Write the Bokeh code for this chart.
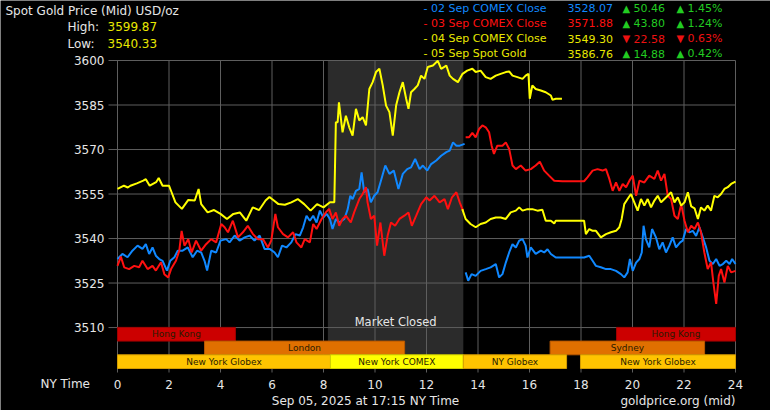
from bokeh.plotting import figure
from bokeh.models import Range1d, ColumnDataSource
from bokeh.embed import file_html
from bokeh.resources import INLINE
from bokeh.core.properties import value

# ---------------- data ----------------
hour_ticks = [0, 2, 4, 6, 8, 10, 12, 14, 16, 18, 20, 22, 24]
price_ticks = [3510, 3525, 3540, 3555, 3570, 3585, 3600]

# 05 Sep spot gold (yellow, current day)
spot05_hours = [0.0, 0.25, 0.4, 0.5, 0.75, 1.0, 1.1, 1.25, 1.5, 1.6, 1.75, 2.0, 2.1, 2.25, 2.5, 2.75,
                3.0, 3.15, 3.25, 3.5, 3.75, 4.0, 4.25, 4.5, 4.75, 5.0, 5.25, 5.5, 5.75, 5.9, 6.0, 6.25,
                6.5, 6.75, 7.0, 7.25, 7.5, 7.75, 8.0, 8.25, 8.42, 8.48, 8.55, 8.6, 8.74, 8.87, 9.0,
                9.13, 9.26, 9.39, 9.52, 9.65, 9.78, 9.91, 10.04, 10.17, 10.3, 10.43, 10.56, 10.69,
                10.82, 10.95, 11.08, 11.21, 11.3, 11.4, 11.53, 11.66, 11.79, 11.92, 12.05, 12.25,
                12.44, 12.57, 12.77, 12.9, 13.03, 13.22, 13.4, 13.58, 13.78, 13.91, 14.1, 14.3,
                14.49, 14.69, 14.88, 15.08, 15.21, 15.34, 15.53, 15.73, 15.85, 15.96, 16.01, 16.11,
                16.24, 16.44, 16.63, 16.83, 16.89, 17.02, 17.26]
spot05_prices = [3556.7, 3557.8, 3557.2, 3557.8, 3558.6, 3559.5, 3560.0, 3557.8, 3559.0, 3560.4,
                 3557.8, 3557.8, 3555.6, 3552.2, 3550.0, 3553.0, 3552.8, 3556.7, 3551.6, 3548.8,
                 3549.6, 3548.3, 3546.6, 3548.3, 3548.8, 3546.0, 3550.5, 3549.6, 3552.8, 3554.0,
                 3553.3, 3551.6, 3551.4, 3552.2, 3553.3, 3551.6, 3549.4, 3551.6, 3550.5, 3552.2,
                 3552.2, 3579.2, 3579.2, 3585.9, 3575.8, 3581.4, 3577.5, 3574.7, 3583.7, 3579.8,
                 3580.9, 3578.1, 3590.4, 3592.7, 3596.1, 3597.2, 3591.6, 3584.8, 3582.6, 3574.7,
                 3584.8, 3589.3, 3592.7, 3587.1, 3583.7, 3589.3, 3590.4, 3591.6, 3594.9, 3593.8,
                 3597.8, 3598.3, 3599.9, 3597.2, 3598.3, 3594.9, 3593.8, 3592.7, 3595.5, 3596.6,
                 3597.2, 3596.1, 3596.6, 3594.4, 3593.8, 3594.9, 3595.5, 3596.1, 3596.3, 3594.9,
                 3594.4, 3593.8, 3594.9, 3595.5, 3587.1, 3591.6, 3590.4, 3589.9, 3589.3, 3588.2,
                 3586.8, 3587.1, 3587.1]

# 04 Sep COMEX close series, afternoon part (yellow)
close04_hours = [13.39, 13.52, 13.71, 13.91, 14.1, 14.3, 14.49, 14.69, 14.88, 15.08, 15.27, 15.47,
                 15.6, 15.73, 15.92, 16.11, 16.31, 16.5, 16.63, 16.83, 16.96, 17.02, 18.12, 18.19,
                 18.32, 18.45, 18.58, 18.77, 18.97, 19.16, 19.36, 19.49, 19.58, 19.68, 19.81, 19.94,
                 20.07, 20.2, 20.33, 20.46, 20.59, 20.72, 20.85, 20.98, 21.11, 21.24, 21.37, 21.5,
                 21.63, 21.76, 21.89, 22.02, 22.15, 22.28, 22.41, 22.54, 22.66, 22.79, 22.92, 23.05,
                 23.18, 23.31, 23.44, 23.57, 23.7, 23.83, 24.0]
close04_prices = [3549.9, 3546.6, 3544.9, 3543.8, 3544.9, 3545.4, 3546.6, 3547.1, 3547.1, 3546.6,
                  3548.8, 3549.4, 3550.5, 3549.4, 3549.9, 3549.9, 3549.4, 3549.7, 3546.0, 3546.0,
                  3545.1, 3546.0, 3546.0, 3541.5, 3543.2, 3542.6, 3542.6, 3540.4, 3541.5, 3542.1,
                  3542.6, 3543.8, 3546.6, 3551.6, 3553.3, 3555.0, 3552.2, 3549.4, 3553.3, 3551.1,
                  3553.3, 3550.5, 3552.8, 3554.4, 3552.2, 3553.3, 3554.4, 3555.6, 3552.2, 3553.9,
                  3551.1, 3552.2, 3555.6, 3550.8, 3550.2, 3546.6, 3550.5, 3549.4, 3551.1, 3549.4,
                  3554.4, 3553.9, 3555.0, 3556.7, 3557.3, 3558.4, 3559.2]

# 03 Sep COMEX close series (red): afternoon part and next-morning part
close03_pm_hours = [13.52, 13.65, 13.78, 13.91, 14.04, 14.17, 14.3, 14.43, 14.53, 14.62, 14.75, 14.95,
                    15.08, 15.21, 15.34, 15.47, 15.66, 15.85, 16.05, 16.24, 16.4, 16.57, 16.76, 16.96,
                    17.28, 18.12, 18.25, 18.45, 18.64, 18.84, 18.97, 19.1, 19.23, 19.36, 19.49, 19.62,
                    19.75, 19.88, 20.01, 20.14, 20.27, 20.46, 20.65, 20.85, 20.98, 21.11, 21.24, 21.37,
                    21.5, 21.63, 21.76, 21.89, 22.02, 22.15, 22.28, 22.41, 22.54, 22.66, 22.79, 22.92,
                    23.05, 23.14, 23.25, 23.35, 23.44, 23.57, 23.7, 23.83, 24.0]
close03_pm_prices = [3574.1, 3574.1, 3575.6, 3574.1, 3576.9, 3578.1, 3577.5, 3575.8, 3571.3, 3568.5,
                     3571.3, 3571.3, 3572.4, 3570.2, 3564.6, 3563.4, 3564.6, 3562.9, 3563.4, 3564.6,
                     3565.9, 3562.9, 3561.2, 3559.5, 3559.3, 3559.3, 3560.6, 3562.9, 3563.4, 3562.9,
                     3563.4, 3560.1, 3556.1, 3558.9, 3556.1, 3558.4, 3557.3, 3559.5, 3561.2, 3554.4,
                     3559.5, 3558.9, 3561.2, 3560.1, 3562.9, 3559.5, 3561.8, 3554.4, 3553.3, 3547.7,
                     3546.6, 3551.6, 3546.0, 3542.1, 3544.3, 3543.2, 3545.4, 3542.1, 3535.3, 3529.7,
                     3532.0, 3525.2, 3518.0, 3527.4, 3529.7, 3525.2, 3530.8, 3528.6, 3529.1]
close03_am_hours = [0.0, 0.13, 0.26, 0.45, 0.65, 0.84, 0.97, 1.17, 1.36, 1.49, 1.69, 1.82, 1.97, 2.08,
                    2.27, 2.4, 2.49, 2.6, 2.75, 2.88, 3.05, 3.25, 3.44, 3.64, 3.83, 4.03, 4.16, 4.29,
                    4.48, 4.68, 4.87, 5.06, 5.26, 5.45, 5.65, 5.84, 5.97, 6.13, 6.23, 6.43, 6.62, 6.82,
                    6.95, 7.14, 7.27, 7.47, 7.6, 7.73, 7.92, 8.09, 8.22, 8.35, 8.48, 8.61, 8.74, 8.87,
                    9.06, 9.19, 9.39, 9.52, 9.65, 9.71, 9.84, 9.97, 10.08, 10.21, 10.36, 10.49, 10.62,
                    10.78, 10.95, 11.14, 11.3, 11.43, 11.6, 11.79, 11.99, 12.12, 12.31, 12.51, 12.7,
                    12.83, 12.99, 13.16, 13.29, 13.42]
close03_am_prices = [3530.8, 3533.9, 3530.3, 3529.7, 3530.8, 3530.3, 3532.5, 3529.7, 3530.8, 3529.2,
                     3532.0, 3528.0, 3526.9, 3529.7, 3532.5, 3535.9, 3542.6, 3537.6, 3539.8, 3535.3,
                     3539.3, 3535.9, 3538.1, 3539.8, 3538.7, 3544.9, 3543.8, 3542.1, 3546.0, 3540.4,
                     3542.1, 3544.3, 3541.5, 3539.8, 3539.8, 3537.0, 3539.3, 3548.3, 3543.8, 3541.5,
                     3540.4, 3542.1, 3538.7, 3537.0, 3539.8, 3538.7, 3544.9, 3543.2, 3546.5, 3548.8,
                     3550.0, 3546.6, 3548.8, 3544.3, 3546.6, 3547.7, 3545.4, 3548.8, 3553.3, 3555.0,
                     3557.3, 3552.2, 3546.6, 3547.7, 3537.6, 3545.4, 3534.2, 3540.9, 3545.4, 3544.3,
                     3546.6, 3547.7, 3548.8, 3544.3, 3547.7, 3551.6, 3553.9, 3552.8, 3554.4, 3552.2,
                     3553.3, 3549.9, 3553.9, 3555.6, 3552.2, 3549.3]

# 02 Sep COMEX close series (blue): afternoon part and next-morning part
close02_pm_hours = [13.52, 13.62, 13.75, 13.91, 14.1, 14.3, 14.49, 14.69, 14.82, 14.95, 15.08, 15.21,
                    15.34, 15.47, 15.6, 15.73, 15.85, 15.92, 16.05, 16.24, 16.44, 16.57, 16.7, 16.83,
                    17.02, 18.12, 18.32, 18.45, 18.58, 18.77, 18.97, 19.16, 19.36, 19.55, 19.68, 19.81,
                    19.9, 20.01, 20.14, 20.27, 20.36, 20.43, 20.52, 20.65, 20.76, 20.91, 21.04, 21.17,
                    21.3, 21.43, 21.56, 21.69, 21.85, 21.95, 22.08, 22.21, 22.34, 22.47, 22.6, 22.73,
                    22.86, 22.99, 23.12, 23.25, 23.38, 23.51, 23.64, 23.77, 23.87, 24.0]
close02_pm_prices = [3528.6, 3525.8, 3528.0, 3527.4, 3529.1, 3529.7, 3530.3, 3531.4, 3526.9, 3528.0,
                     3531.9, 3535.3, 3538.1, 3537.0, 3539.3, 3539.8, 3537.6, 3533.6, 3537.0, 3534.8,
                     3535.9, 3535.3, 3536.4, 3534.8, 3533.6, 3533.6, 3534.2, 3532.5, 3530.8, 3530.3,
                     3529.7, 3529.7, 3529.1, 3528.0, 3526.9, 3528.6, 3533.1, 3529.1, 3531.9, 3533.1,
                     3535.3, 3544.3, 3539.8, 3537.0, 3543.2, 3540.4, 3536.4, 3538.7, 3535.3, 3537.6,
                     3540.4, 3537.0, 3538.7, 3539.3, 3543.2, 3542.1, 3542.6, 3540.9, 3543.8, 3540.4,
                     3537.0, 3532.5, 3531.4, 3533.1, 3530.8, 3531.4, 3532.5, 3531.4, 3533.1, 3531.4]
close02_am_hours = [0.0, 0.19, 0.39, 0.58, 0.78, 0.97, 1.1, 1.23, 1.36, 1.49, 1.62, 1.75, 1.92, 2.05,
                    2.21, 2.34, 2.53, 2.73, 2.92, 3.09, 3.25, 3.38, 3.48, 3.64, 3.83, 4.0, 4.22, 4.35,
                    4.55, 4.74, 4.94, 5.13, 5.32, 5.52, 5.71, 5.91, 6.1, 6.23, 6.39, 6.56, 6.75, 6.91,
                    7.08, 7.21, 7.34, 7.47, 7.6, 7.73, 7.86, 7.99, 8.12, 8.25, 8.35, 8.48, 8.61, 8.81,
                    8.94, 9.04, 9.13, 9.26, 9.39, 9.48, 9.58, 9.71, 9.84, 9.97, 10.1, 10.23, 10.4,
                    10.56, 10.73, 10.91, 11.08, 11.25, 11.4, 11.56, 11.73, 11.86, 12.03, 12.18, 12.38,
                    12.57, 12.77, 12.9, 13.03, 13.16, 13.29, 13.48]
close02_am_prices = [3533.1, 3534.8, 3533.7, 3535.9, 3537.6, 3536.5, 3538.1, 3534.8, 3537.0, 3534.2,
                     3533.1, 3532.5, 3529.2, 3532.5, 3533.7, 3535.9, 3535.9, 3537.0, 3533.7, 3535.9,
                     3535.3, 3532.5, 3529.2, 3535.9, 3535.3, 3539.3, 3539.8, 3538.7, 3541.0, 3539.3,
                     3540.4, 3541.0, 3539.3, 3541.0, 3536.5, 3536.5, 3535.3, 3533.7, 3537.6, 3537.0,
                     3538.7, 3541.5, 3541.0, 3543.8, 3547.7, 3546.0, 3547.7, 3545.4, 3549.4, 3547.1,
                     3548.3, 3546.6, 3543.2, 3546.6, 3545.4, 3546.6, 3549.9, 3554.4, 3553.3, 3556.1,
                     3556.7, 3562.3, 3555.6, 3556.7, 3552.2, 3554.4, 3555.6, 3559.5, 3564.6, 3561.8,
                     3562.9, 3556.7, 3561.8, 3563.4, 3564.0, 3566.8, 3563.4, 3564.6, 3562.9, 3565.1,
                     3566.3, 3567.9, 3569.1, 3569.6, 3572.4, 3571.3, 3571.3, 3571.9]

# market sessions
session_names = ["Hong Kong", "Hong Kong", "London", "Sydney", "New York Globex", "New York COMEX",
                 "NY Globex", "New York Globex"]
session_start = [0.0, 19.38, 3.38, 16.8, 0.0, 8.27, 13.43, 17.98]
session_end = [4.58, 24.0, 11.15, 22.8, 8.27, 13.43, 17.44, 24.0]
session_row = [2, 2, 1, 1, 0, 0, 0, 0]
closed_start, closed_end = 8.17, 13.43

# header and legend texts
high_value, low_value = "3599.87", "3540.33"
legend_names = ["- 02 Sep COMEX Close", "- 03 Sep COMEX Close", "- 04 Sep COMEX Close", "- 05 Sep Spot Gold"]
legend_prices = ["3528.07", "3571.88", "3549.30", "3586.76"]
legend_changes = ["50.46", "43.80", "22.58", "14.88"]
legend_pcts = ["1.45%", "1.24%", "0.63%", "0.42%"]
legend_up = [True, True, False, True]

# ---------------- layout / styling ----------------
W, H = 770, 410
PL, PR, PT, PB = 117, 735, 60, 368          # plot area in canvas pixels
HOUR_MIN, HOUR_MAX = 0.0, 24.0
PRICE_MIN, PRICE_MAX = 3496.2, 3600.0
ROW_H = 13.7

BLUE, RED, YELLOW = "#1088ff", "#ff1010", "#ffff00"
TXT_YELLOW = "#e8e800"
GREEN, DOWN_RED = "#22cc22", "#ee1111"
GRID = "#5e5e5e"
TEXT = "#e6e6e6"
FONT = "DejaVu Sans"

session_fill = {"Hong Kong": "#cc0000", "London": "#e07000", "Sydney": "#e07000",
                "New York Globex": "#ffc400", "NY Globex": "#ffc400", "New York COMEX": "#ffff00"}
session_line = {"Hong Kong": "#a00000", "London": "#b85800", "Sydney": "#b85800",
                "New York Globex": "#d49c00", "NY Globex": "#d49c00", "New York COMEX": "#d0d000"}

# whole canvas is the frame; default ranges are canvas pixels (y downwards)
p = figure(width=W, height=H, output_backend="svg", toolbar_location=None,
           x_range=Range1d(0, W), y_range=Range1d(H, 0),
           x_axis_location=None, y_axis_location=None, title_location=None, min_border=0)
p.background_fill_color = "black"
p.border_fill_color = "black"
p.outline_line_color = None
p.grid.visible = False

# data scales: hours and price, extended so that the plot area maps onto PL..PR / PT..PB
hx = (HOUR_MAX - HOUR_MIN) / (PR - PL)
py = (PRICE_MAX - PRICE_MIN) / (PB - PT)
p.extra_x_ranges = {"hours": Range1d(HOUR_MIN - PL * hx, HOUR_MAX + (W - PR) * hx)}
p.extra_y_ranges = {"price": Range1d(PRICE_MIN - (H - PB) * py, PRICE_MAX + PT * py)}

# market closed shading
p.quad(left=[closed_start], right=[closed_end], top=[PT], bottom=[PB - ROW_H],
       x_range_name="hours", fill_color="#2b2b2b", line_color=None)

# grid lines + tick marks
p.segment(x0=hour_ticks, x1=hour_ticks, y0=[PT] * len(hour_ticks), y1=[PB + 4] * len(hour_ticks),
          x_range_name="hours", line_color=GRID, line_width=1)
p.segment(x0=[PL - 9] * len(price_ticks), x1=[PR] * len(price_ticks), y0=price_ticks, y1=price_ticks,
          y_range_name="price", line_color=GRID, line_width=1)

# tick labels
p.text(x=hour_ticks, y=[PB + 15.5] * len(hour_ticks), text=[str(h) for h in hour_ticks],
       x_range_name="hours", text_color=TEXT, text_font=value(FONT), text_font_size="12px",
       text_align="center", text_baseline="middle")
p.text(x=[PL - 13] * len(price_ticks), y=price_ticks, text=[str(v) for v in price_ticks],
       y_range_name="price", text_color=TEXT, text_font=value(FONT), text_font_size="12px",
       text_align="right", text_baseline="middle")

# price lines
for hrs, prices, col in [(close02_pm_hours, close02_pm_prices, BLUE),
                         (close02_am_hours, close02_am_prices, BLUE),
                         (close03_pm_hours, close03_pm_prices, RED),
                         (close03_am_hours, close03_am_prices, RED),
                         (close04_hours, close04_prices, YELLOW),
                         (spot05_hours, spot05_prices, YELLOW)]:
    p.line(hrs, prices, x_range_name="hours", y_range_name="price", line_color=col, line_width=2)

# session bars
src = ColumnDataSource(dict(
    left=session_start, right=session_end,
    top=[PB - (r + 1) * ROW_H for r in session_row],
    bottom=[PB - r * ROW_H for r in session_row],
    mid=[(a + b) / 2 for a, b in zip(session_start, session_end)],
    ymid=[PB - (r + 0.5) * ROW_H for r in session_row],
    name=session_names,
    fill=[session_fill[n] for n in session_names],
    edge=[session_line[n] for n in session_names],
))
p.quad(left="left", right="right", bottom="bottom", top="top", source=src, x_range_name="hours",
       fill_color="fill", line_color="edge", line_width=1)
p.text(x="mid", y="ymid", text="name", source=src, x_range_name="hours",
       text_align="center", text_baseline="middle", text_color="#2a1c00",
       text_font=value(FONT), text_font_size="9px")


def txt(x, y, s, color, size="12px", align="left"):
    p.text(x=[x], y=[y], text=[s], text_color=color, text_font=value(FONT), text_font_size=size,
           text_align=align, text_baseline="middle")


txt(PL + (closed_start + closed_end) / 2 / hx, 321, "Market Closed", TEXT, "11.5px", "center")

# header
txt(5, 10, "Spot Gold Price (Mid) USD/oz", TEXT)
txt(67, 26, "High:", TEXT)
txt(107, 26, high_value, TXT_YELLOW)
txt(67, 43, "Low:", TEXT)
txt(107, 43, low_value, TXT_YELLOW)

# legend
name_colors = [BLUE, RED, TXT_YELLOW, TXT_YELLOW]
row_y = [7.5, 22.5, 38, 53]
for i in range(4):
    c = name_colors[i]
    chg = GREEN if legend_up[i] else DOWN_RED
    tri = "\u25B2" if legend_up[i] else "\u25BC"
    txt(423, row_y[i], legend_names[i], c, "11px")
    txt(567, row_y[i], legend_prices[i], c, "11px")
    txt(622, row_y[i], tri, chg, "10px")
    txt(633, row_y[i], legend_changes[i], chg, "11px")
    txt(676, row_y[i], tri, chg, "10px")
    txt(687, row_y[i], legend_pcts[i], chg, "11px")

# footer
txt(40, 383.5, "NY Time", TEXT)
txt(365, 400, "Sep 05, 2025 at 17:15 NY Time", TEXT, "12px", "center")
txt(735, 400, "goldprice.org (mid)", TEXT, "12px", "right")

open("out.html", "w").write(file_html(p, INLINE))
